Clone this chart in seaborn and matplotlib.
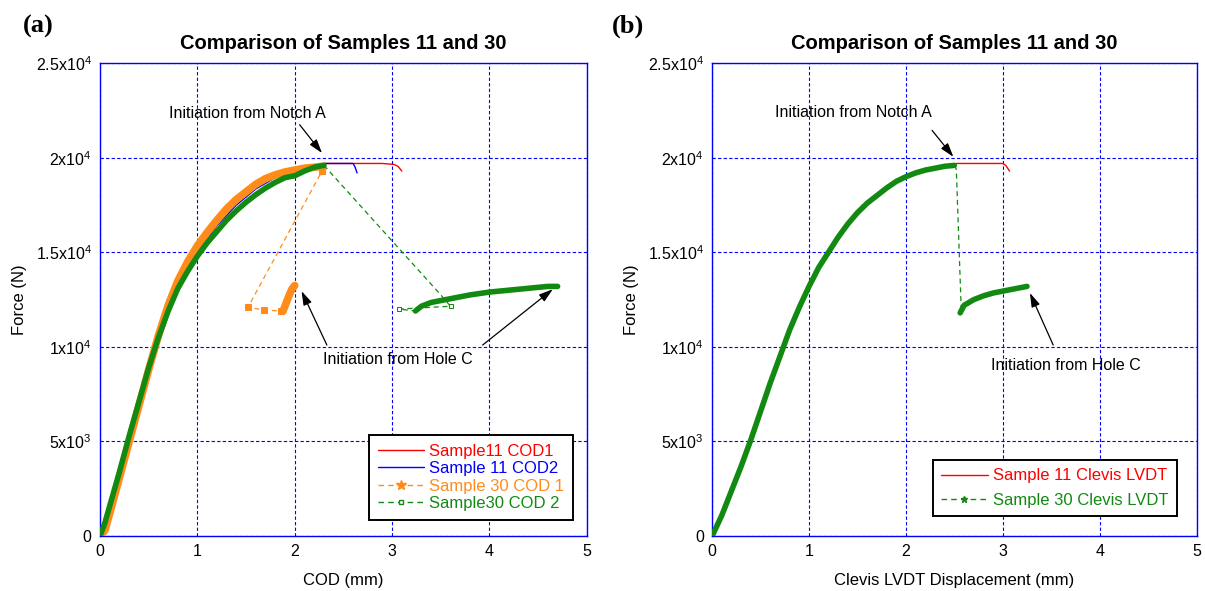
import numpy as np
import pandas as pd
import seaborn as sns
import matplotlib
matplotlib.use('Agg')
import matplotlib.pyplot as plt
from matplotlib.lines import Line2D

# ---- data ----
# (a) COD
red_cod1_x = [0, 0.1, 0.2, 0.3, 0.4, 0.5, 0.6, 0.7, 0.8, 0.9, 1.0, 1.2, 1.4, 1.6, 1.8, 2.0, 2.2, 2.3, 2.6, 2.9, 3.02, 3.06, 3.1]
red_cod1_y = [0, 1600, 3400, 5300, 7100, 8900, 10500, 11900, 13100, 14000, 14850, 16200, 17300, 18150, 18750, 19150, 19500, 19700, 19700, 19700, 19650, 19550, 19300]

blue_cod2_x = [0, 0.1, 0.2, 0.3, 0.4, 0.5, 0.6, 0.7, 0.8, 0.9, 1.0, 1.2, 1.4, 1.6, 1.8, 2.0, 2.2, 2.3, 2.45, 2.6, 2.62, 2.64]
blue_cod2_y = [0, 1600, 3400, 5300, 7100, 8900, 10550, 12000, 13250, 14200, 15000, 16400, 17500, 18350, 18950, 19300, 19600, 19700, 19700, 19700, 19500, 19200]

org_load_x = [0, 0.05, 0.1, 0.2, 0.3, 0.4, 0.5, 0.6, 0.7, 0.8, 0.9, 1.0, 1.1, 1.2, 1.3, 1.4, 1.5, 1.6, 1.7, 1.8, 1.9, 2.0, 2.1, 2.2, 2.28]
org_load_y = [0, 300, 1200, 3100, 5000, 6900, 8800, 10600, 12200, 13500, 14500, 15350, 16050, 16700, 17300, 17800, 18200, 18600, 18900, 19100, 19250, 19350, 19450, 19500, 19550]
org_jump_x = [2.28, 1.52, 1.68, 1.86]
org_jump_y = [19300, 12100, 11950, 11900]
org_rec_x = [1.88, 1.91, 1.94, 1.97, 2.0]
org_rec_y = [11900, 12300, 12700, 13050, 13250]

grn_load_x = [0, 0.05, 0.1, 0.2, 0.3, 0.4, 0.5, 0.6, 0.7, 0.8, 0.9, 1.0, 1.1, 1.2, 1.3, 1.4, 1.5, 1.6, 1.7, 1.8, 1.9, 2.0, 2.1, 2.2, 2.3]
grn_load_y = [0, 700, 1600, 3400, 5300, 7100, 8900, 10500, 11900, 13100, 14000, 14800, 15500, 16100, 16700, 17200, 17650, 18050, 18400, 18700, 18950, 19050, 19300, 19500, 19600]
grn_jump_x = [3.5, 3.6, 3.07]
grn_jump_y = [12750, 12150, 12000]
grn_rec_x = [3.24, 3.3, 3.4, 3.6, 3.8, 4.0, 4.2, 4.4, 4.6, 4.7]
grn_rec_y = [11900, 12150, 12350, 12550, 12750, 12900, 13000, 13100, 13200, 13200]

# (b) Clevis LVDT
red_lvdt_x = [0, 0.1, 0.2, 0.3, 0.4, 0.5, 0.6, 0.7, 0.8, 0.9, 1.0, 1.2, 1.4, 1.6, 1.8, 2.0, 2.2, 2.4, 2.52, 2.8, 3.0, 3.03, 3.07]
red_lvdt_y = [0, 1100, 2400, 3700, 5100, 6600, 8100, 9500, 10900, 12100, 13200, 15000, 16500, 17600, 18400, 19000, 19350, 19550, 19700, 19700, 19700, 19600, 19300]

g30_load_x = [0, 0.1, 0.2, 0.3, 0.4, 0.5, 0.6, 0.7, 0.8, 0.9, 1.0, 1.1, 1.2, 1.3, 1.4, 1.5, 1.6, 1.7, 1.8, 1.9, 2.0, 2.1, 2.2, 2.3, 2.4, 2.5]
g30_load_y = [0, 1100, 2400, 3700, 5100, 6600, 8100, 9500, 10900, 12100, 13200, 14200, 15000, 15800, 16500, 17100, 17600, 18000, 18400, 18750, 19000, 19200, 19350, 19450, 19550, 19600]
g30_jump_x = [2.52, 2.57]
g30_jump_y = [19400, 12100]
g30_rec_x = [2.56, 2.6, 2.7, 2.8, 2.9, 3.0, 3.1, 3.2, 3.25]
g30_rec_y = [11800, 12200, 12500, 12700, 12850, 12950, 13050, 13150, 13200]

y_ticks = [0, 5000, 10000, 15000, 20000, 25000]
y_labels = ['0', '5x10$^3$', '1x10$^4$', '1.5x10$^4$', '2x10$^4$', '2.5x10$^4$']
x_ticks = [0, 1, 2, 3, 4, 5]

RED = '#ff0000'
BLUE = '#0000ff'
ORANGE = '#ff8c1a'
GREEN = '#128a12'

sns.set_theme(style='white')
plt.rcParams['font.family'] = ['Liberation Sans', 'DejaVu Sans']
plt.rcParams['mathtext.default'] = 'regular'
plt.rcParams['text.color'] = 'black'
plt.rcParams['axes.labelcolor'] = 'black'
plt.rcParams['xtick.labelcolor'] = 'black'
plt.rcParams['ytick.labelcolor'] = 'black'


def curve(ax, x, y, color, lw, ls='-', marker=None, ms=0, mfc=None, z=2):
    df = pd.DataFrame({'x': x, 'y': y})
    sns.lineplot(data=df, x='x', y='y', sort=False, estimator=None, color=color,
                 linewidth=lw, linestyle=ls, marker=marker, markersize=ms,
                 markeredgecolor=color, markerfacecolor=mfc if mfc else color,
                 ax=ax, zorder=z)


def style_axes(ax, xlabel):
    ax.set_xlim(0, 5)
    ax.set_ylim(0, 25000)
    ax.set_xticks(x_ticks)
    ax.set_xticklabels([str(t) for t in x_ticks])
    ax.set_yticks(y_ticks)
    ax.set_yticklabels(y_labels)
    ax.tick_params(direction='in', length=4, color=BLUE, labelsize=11.5, pad=6)
    ax.grid(True, color=BLUE, linestyle=(0, (3, 2)), linewidth=0.8)
    for s in ax.spines.values():
        s.set_color(BLUE)
        s.set_linewidth(1.0)
    ax.set_title('Comparison of Samples 11 and 30', fontsize=14.5, fontweight='bold', pad=10)
    ax.set_xlabel(xlabel, fontsize=12, labelpad=10)
    ax.set_ylabel('Force (N)', fontsize=12, labelpad=6)


def arrow(ax, tip, tail):
    ax.annotate('', xy=tip, xytext=tail,
                arrowprops=dict(arrowstyle='-|>,head_length=0.7,head_width=0.22',
                                color='black', lw=0.9, shrinkA=0, shrinkB=0))


fig = plt.figure(figsize=(12.05, 5.91), dpi=100)
ax1 = fig.add_axes([0.083, 0.093, 0.404, 0.800])
ax2 = fig.add_axes([0.591, 0.093, 0.402, 0.800])

# ---- panel (a) ----
curve(ax1, red_cod1_x, red_cod1_y, RED, 1.0)
curve(ax1, blue_cod2_x, blue_cod2_y, BLUE, 1.0)
# orange: thin dashed path through the jump, thick bands where data is dense
curve(ax1, [org_load_x[-1]] + org_jump_x + [org_rec_x[0]],
      [org_load_y[-1]] + org_jump_y + [org_rec_y[0]], ORANGE, 0.9, ls=(0, (4, 3)), z=3)
curve(ax1, org_jump_x, org_jump_y, ORANGE, 0, marker='s', ms=5, z=3)
curve(ax1, org_load_x, org_load_y, ORANGE, 5.5, z=3)
curve(ax1, org_rec_x, org_rec_y, ORANGE, 5.5, z=3)
# green
curve(ax1, [grn_load_x[-1]] + grn_jump_x + [grn_rec_x[0]],
      [grn_load_y[-1]] + grn_jump_y + [grn_rec_y[0]], GREEN, 0.9, ls=(0, (4, 3)), z=4)
curve(ax1, grn_jump_x[1:], grn_jump_y[1:], GREEN, 0, marker='s', ms=3.5, mfc='white', z=4)
curve(ax1, grn_load_x, grn_load_y, GREEN, 4.0, z=4)
curve(ax1, grn_rec_x, grn_rec_y, GREEN, 4.0, z=4)

style_axes(ax1, 'COD (mm)')
ax1.text(1.51, 22350, 'Initiation from Notch A', ha='center', va='center', fontsize=11.5)
arrow(ax1, (2.28, 20250), (2.05, 21750))
ax1.text(3.06, 9350, 'Initiation from Hole C', ha='center', va='center', fontsize=11.5)
arrow(ax1, (2.07, 12950), (2.33, 10100))
arrow(ax1, (4.65, 13050), (3.93, 10100))

h1 = [Line2D([], [], color=RED, lw=1.0),
      Line2D([], [], color=BLUE, lw=1.0),
      Line2D([], [], color=ORANGE, lw=1.0, ls=(0, (4, 3)), marker='*', ms=7),
      Line2D([], [], color=GREEN, lw=1.0, ls=(0, (4, 3)), marker='s', ms=3, mfc='white')]
leg1 = ax1.legend(h1, ['Sample11 COD1', 'Sample 11 COD2', 'Sample 30 COD 1', 'Sample30 COD 2'],
                  loc='lower right', bbox_to_anchor=(0.988, 0.017), fontsize=12,
                  labelcolor='linecolor', frameon=True, fancybox=False, edgecolor='black',
                  handlelength=2.8, handletextpad=0.3, labelspacing=0.15,
                  borderpad=0.5, framealpha=1)
leg1.get_frame().set_linewidth(1.4)

# ---- panel (b) ----
curve(ax2, red_lvdt_x, red_lvdt_y, RED, 1.0)
curve(ax2, [g30_load_x[-1]] + g30_jump_x + [g30_rec_x[0]],
      [g30_load_y[-1]] + g30_jump_y + [g30_rec_y[0]], GREEN, 0.9, ls=(0, (4, 3)), z=4)
curve(ax2, g30_load_x, g30_load_y, GREEN, 4.0, z=4)
curve(ax2, g30_rec_x, g30_rec_y, GREEN, 4.0, z=4)

style_axes(ax2, 'Clevis LVDT Displacement (mm)')
ax2.text(1.46, 22400, 'Initiation from Notch A', ha='center', va='center', fontsize=11.5)
arrow(ax2, (2.49, 20050), (2.27, 21450))
ax2.text(3.65, 9000, 'Initiation from Hole C', ha='center', va='center', fontsize=11.5)
arrow(ax2, (3.28, 12850), (3.52, 10100))

h2 = [Line2D([], [], color=RED, lw=1.0),
      Line2D([], [], color=GREEN, lw=1.0, ls=(0, (4, 3)), marker='*', ms=5)]
leg2 = ax2.legend(h2, ['Sample 11 Clevis LVDT', 'Sample 30 Clevis LVDT'],
                  loc='lower right', bbox_to_anchor=(0.976, 0.025), fontsize=12,
                  labelcolor='linecolor', frameon=True, fancybox=False, edgecolor='black',
                  handlelength=2.8, handletextpad=0.3, labelspacing=0.55,
                  borderpad=0.5, framealpha=1)
leg2.get_frame().set_linewidth(1.4)

fig.text(0.032, 0.955, '(a)', fontsize=19, fontweight='bold', family='Liberation Serif', ha='center', va='center')
fig.text(0.521, 0.955, '(b)', fontsize=19, fontweight='bold', family='Liberation Serif', ha='center', va='center')

fig.savefig('out.png', dpi=100)
